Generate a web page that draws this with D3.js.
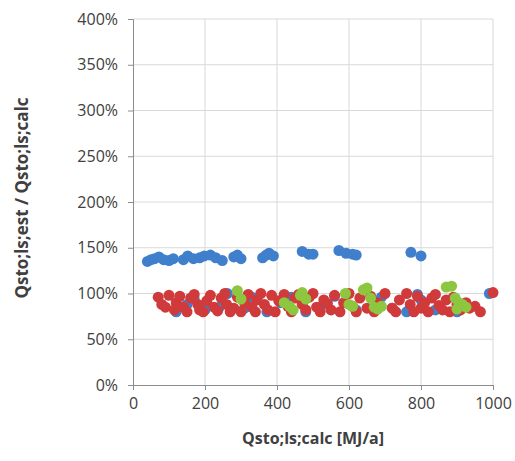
<!DOCTYPE html>
<html>
<head>
<meta charset="utf-8">
<script src="https://cdn.jsdelivr.net/npm/d3@7"></script>
<style>
  body { margin: 0; background: #fff; }
  svg text { font-family: "Open Sans", "Liberation Sans", sans-serif; fill: #404040; }
</style>
</head>
<body>
<svg width="515" height="461"></svg>
<script>
var svg = d3.select('svg');

// tick labels
var xTicks = [0, 200, 400, 600, 800, 1000];
var yTicks = [0, 0.5, 1, 1.5, 2, 2.5, 3, 3.5, 4];

// series: [Qsto;ls;calc, ratio]
var bluePoints = [
  [40,1.35],[50,1.37],[60,1.38],[72,1.40],[85,1.37],[100,1.36],[112,1.38],
  [140,1.37],[152,1.41],[168,1.38],[185,1.39],[198,1.41],[215,1.42],[230,1.39],
  [248,1.36],[280,1.40],[290,1.42],[300,1.38],[360,1.39],[370,1.42],[378,1.44],
  [390,1.41],[470,1.46],[488,1.43],[500,1.43],[572,1.47],[592,1.44],[610,1.43],
  [620,1.42],[772,1.45],[800,1.41],
  [120,0.80],[150,0.88],[170,0.94],[200,0.82],[240,0.85],[262,1.00],[310,0.84],
  [330,0.96],[372,0.80],[410,0.90],[440,0.96],[480,0.80],[520,0.85],[560,0.97],
  [620,0.82],[690,0.96],[720,0.84],[760,0.80],[790,0.99],[800,0.93],[840,0.82],
  [900,0.80],[990,1.00]
];
var redPoints = [
  [70,0.96],[80,0.88],[90,0.85],[100,0.98],[115,0.82],[120,0.90],[130,0.97],
  [140,0.85],[150,0.80],[160,0.95],[170,0.99],[180,0.88],[185,0.82],[195,0.80],
  [205,0.92],[215,0.98],[225,0.85],[235,0.81],[245,0.95],[255,1.00],[260,0.88],
  [270,0.80],[280,0.84],[290,0.96],[300,0.80],[310,0.90],[320,0.99],[330,0.85],
  [340,0.80],[345,0.93],[355,1.00],[365,0.88],[375,0.82],[385,0.98],[395,0.80],
  [405,0.92],[420,0.99],[430,0.86],[440,0.80],[450,0.95],[460,0.99],[470,0.88],
  [480,0.82],[490,0.96],[500,1.00],[510,0.85],[520,0.80],[530,0.93],[540,0.89],
  [550,0.82],[560,0.98],[575,0.80],[585,0.90],[600,1.00],[610,0.86],[620,0.80],
  [630,0.95],[650,0.84],[660,0.97],[670,0.80],[680,0.90],[700,1.00],[720,0.84],
  [730,0.80],[740,0.93],[760,1.00],[770,0.88],[780,0.80],[790,0.97],[800,0.84],
  [810,0.90],[820,0.80],[830,0.95],[840,0.99],[850,0.87],[860,0.82],[870,0.93],
  [880,0.80],[890,0.96],[900,0.88],[910,0.82],[925,0.90],[935,0.84],[950,0.86],
  [965,0.80],[1000,1.01]
];
var greenPoints = [
  [290,1.03],[300,0.94],[420,0.90],[435,0.86],[445,0.82],[465,0.98],[470,1.01],
  [480,0.94],[590,1.00],[600,0.88],[610,0.86],[640,1.04],[650,1.06],[660,0.95],
  [670,0.85],[680,0.83],[690,0.86],[870,1.07],[885,1.08],[895,0.95],[905,0.90],
  [915,0.88],[925,0.85],[900,0.83]
];

var plotLeft = 133, plotRight = 493, plotTop = 19, plotBottom = 385;

var x = d3.scaleLinear().domain([0, 1000]).range([plotLeft, plotRight]);
var y = d3.scaleLinear().domain([0, 4]).range([plotBottom, plotTop]);

// gridlines
svg.append('g').selectAll('line').data(yTicks.slice(1)).enter().append('line')
  .attr('x1', plotLeft).attr('x2', plotRight)
  .attr('y1', function(d){ return y(d); }).attr('y2', function(d){ return y(d); })
  .style('stroke', '#d9d9d9').style('stroke-width', 1);
svg.append('g').selectAll('line').data(xTicks.slice(1)).enter().append('line')
  .attr('x1', function(d){ return x(d); }).attr('x2', function(d){ return x(d); })
  .attr('y1', plotTop).attr('y2', plotBottom)
  .style('stroke', '#d9d9d9').style('stroke-width', 1);

// axes
var xAxis = svg.append('g').attr('transform', 'translate(0,' + plotBottom + ')')
  .call(d3.axisBottom(x).tickValues(xTicks).tickSize(5).tickPadding(8)
    .tickFormat(d3.format('d')));
var yAxis = svg.append('g').attr('transform', 'translate(' + plotLeft + ',0)')
  .call(d3.axisLeft(y).tickValues(yTicks).tickSize(5).tickPadding(10)
    .tickFormat(d3.format('.0%')));
[xAxis, yAxis].forEach(function(a){
  a.select('.domain').style('stroke', '#8c8c8c');
  a.selectAll('.tick line').style('stroke', '#8c8c8c');
  a.selectAll('.tick text').style('font-size', '16px').style('fill', '#404040');
});

// points
function drawSeries(data, color) {
  svg.append('g').selectAll('circle').data(data).enter().append('circle')
    .attr('cx', function(d){ return x(d[0]); })
    .attr('cy', function(d){ return y(d[1]); })
    .attr('r', 5.5)
    .style('fill', color);
}
drawSeries(bluePoints, '#3f7fcc');
drawSeries(redPoints, '#d03a3a');
drawSeries(greenPoints, '#8dc63f');

// titles
svg.append('text')
  .attr('x', (plotLeft + plotRight) / 2).attr('y', 444)
  .attr('text-anchor', 'middle')
  .style('font-size', '16px').style('font-weight', 'bold')
  .text('Qsto;ls;calc [MJ/a]');
svg.append('text')
  .attr('transform', 'translate(28,' + 198 + ') rotate(-90)')
  .attr('text-anchor', 'middle')
  .style('font-size', '17px').style('font-weight', 'bold')
  .text('Qsto;ls;est / Qsto;ls;calc');
</script>
</body>
</html>
